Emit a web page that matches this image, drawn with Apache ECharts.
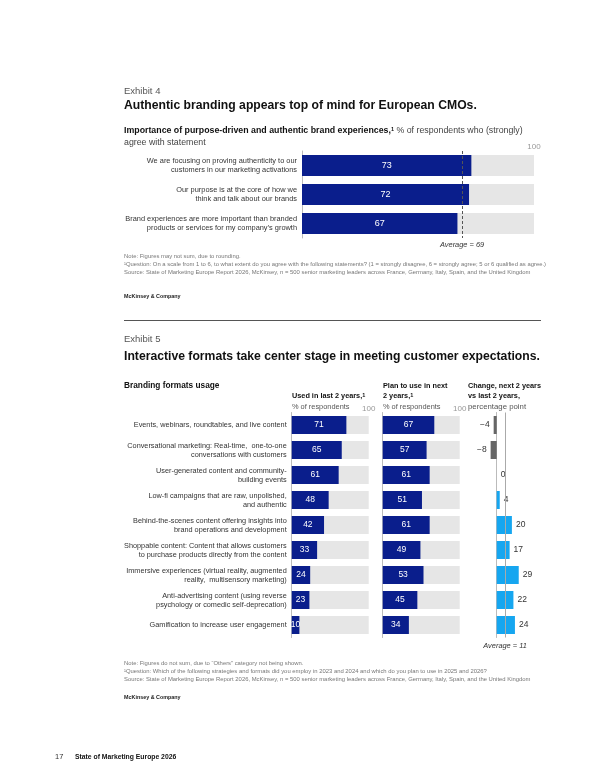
<!DOCTYPE html>
<html>
<head>
<meta charset="utf-8">
<script src="https://cdn.jsdelivr.net/npm/echarts@6/dist/echarts.min.js"></script>
<style>
html,body{margin:0;padding:0;background:#fff;}
#chart{width:600px;height:776px;}
</style>
</head>
<body>
<div id="chart"></div>
<script>
// Exhibit 4
var statements = [
  'We are focusing on proving authenticity to our\ncustomers in our marketing activations',
  'Our purpose is at the core of how we\nthink and talk about our brands',
  'Brand experiences are more important than branded\nproducts or services for my company\u2019s growth'
];
var agreeShare = [73, 72, 67];
var agreeAverage = 69;

// Exhibit 5
var formats = [
  'Events, webinars, roundtables, and live content',
  'Conversational marketing: Real-time,  one-to-one\nconversations with customers',
  'User-generated content and community-\nbuilding events',
  'Low-fi campaigns that are raw, unpolished,\nand authentic',
  'Behind-the-scenes content offering insights into\nbrand operations and development',
  'Shoppable content: Content that allows customers\nto purchase products directly from the content',
  'Immersive experiences (virtual reality, augmented\nreality,  multisensory marketing)',
  'Anti-advertising content (using reverse\npsychology or comedic self-deprecation)',
  'Gamification to increase user engagement'
];
var usedLast2 = [71, 65, 61, 48, 42, 33, 24, 23, 10];
var planNext2 = [67, 57, 61, 51, 61, 49, 53, 45, 34];
var changePts = [-4, -8, 0, 4, 20, 17, 29, 22, 24];
var changeAverage = 11;
var shareMax = 100;

var FONT = '"Liberation Sans", Arial, sans-serif';
var NAVY = '#0a1e8c';
var GREYBG = '#e6e6e6';
var CYAN = '#16a6f0';

var chart = echarts.init(document.getElementById('chart'));

function shareX(idx, show) {
  return {
    type: 'value', gridIndex: idx, min: 0, max: shareMax, interval: shareMax,
    position: 'top',
    axisLine: {show: false}, axisTick: {show: false}, splitLine: {show: false},
    axisLabel: {
      show: show, margin: 0, color: '#999', fontSize: 8, fontFamily: FONT,
      formatter: function (v) { return v === shareMax ? String(shareMax) : ''; }
    }
  };
}

function catY(idx, data, showLabel, size, lh) {
  return {
    type: 'category', gridIndex: idx, data: data, inverse: true,
    axisLine: {show: true, lineStyle: {color: '#bbb', width: 1}},
    axisTick: {show: false},
    axisLabel: {
      show: showLabel, color: '#333', fontSize: size, lineHeight: lh,
      fontFamily: FONT, margin: 5
    }
  };
}

function shareBar(idx, data, bw, fs) {
  return {
    type: 'bar', xAxisIndex: idx, yAxisIndex: idx, data: data,
    barWidth: bw, itemStyle: {color: NAVY},
    showBackground: true, backgroundStyle: {color: GREYBG},
    label: {show: true, position: 'inside', color: '#fff', fontSize: fs, fontFamily: FONT},
    silent: true
  };
}

var changeData = changePts.map(function (v) {
  return {
    value: v,
    itemStyle: {color: v < 0 ? '#666' : CYAN},
    label: {position: v < 0 ? 'left' : 'right'}
  };
});

chart.setOption({
  backgroundColor: '#fff',
  animation: false,
  grid: [
    {left: 302, width: 232, top: 151, height: 87},
    {left: 291.7, width: 77, top: 412.5, height: 225},
    {left: 382.7, width: 77, top: 412.5, height: 225},
    {left: 489.1, width: 30.4, top: 412.5, height: 225}
  ],
  xAxis: [
    shareX(0, true),
    shareX(1, true),
    shareX(2, true),
    {type: 'value', gridIndex: 3, min: -10, max: 30, show: false}
  ],
  yAxis: [
    catY(0, statements, true, 7.4, 9.5),
    catY(1, formats, true, 7.3, 9),
    catY(2, formats, false, 7.3, 9),
    catY(3, formats, false, 7.3, 9)
  ],
  series: [
    (function () {
      var s = shareBar(0, agreeShare, 21, 9);
      s.markLine = {
        silent: true, symbol: 'none', animation: false,
        label: {show: false},
        lineStyle: {type: [3, 2], color: '#555', width: 1},
        data: [{xAxis: agreeAverage}]
      };
      return s;
    })(),
    shareBar(1, usedLast2, 18, 8.5),
    shareBar(2, planNext2, 18, 8.5),
    {
      type: 'bar', xAxisIndex: 3, yAxisIndex: 3, data: changeData,
      barWidth: 18, silent: true,
      label: {
        show: true, distance: 4, color: '#333', fontSize: 8.5, fontFamily: FONT,
        formatter: function (p) { return p.value < 0 ? '\u2212' + Math.abs(p.value) : String(p.value); }
      },
      markLine: {
        silent: true, symbol: 'none', animation: false,
        label: {show: false},
        lineStyle: {type: 'solid', color: '#aaa', width: 1},
        data: [{xAxis: changeAverage}]
      }
    }
  ]
});

var avg4 = chart.convertToPixel({gridIndex: 0}, [agreeAverage, 0]);
var avg5 = chart.convertToPixel({gridIndex: 3}, [changeAverage, 0]);

function txt(x, y, text, opt) {
  opt = opt || {};
  return {
    type: 'text', x: x, y: y, silent: true,
    style: {
      text: text, fontFamily: FONT,
      fontSize: opt.size || 9, fontWeight: opt.bold ? 'bold' : 'normal',
      fontStyle: opt.italic ? 'italic' : 'normal',
      fill: opt.color || '#222', align: opt.align || 'left', verticalAlign: 'middle',
      lineHeight: opt.lh, rich: opt.rich
    }
  };
}

var supStyle = {fontWeight: 'bold', fontSize: 5.5, fill: '#111', fontFamily: FONT, verticalAlign: 'top'};
var subRich = {
  b: {fontWeight: 'bold', fontSize: 8.8, fill: '#111', fontFamily: FONT},
  s: supStyle,
  n: {fontSize: 8.8, fill: '#444', fontFamily: FONT}
};
var headRich = {
  b: {fontWeight: 'bold', fontSize: 7.3, fill: '#111', fontFamily: FONT},
  s: supStyle
};
var NOTE = {size: 5.9, color: '#777'};

chart.setOption({
  graphic: [
    // Exhibit 4
    txt(124, 91, 'Exhibit 4', {size: 9.5, color: '#555'}),
    txt(124, 106, 'Authentic branding appears top of mind for European CMOs.', {size: 12.2, bold: true, color: '#111'}),
    txt(124, 131, '{b|Importance of purpose-driven and authentic brand experiences,}{s|1} {n|% of respondents who (strongly)}', {rich: subRich}),
    txt(124, 142.5, 'agree with statement', {size: 8.8, color: '#444'}),
    txt(avg4[0], 245, 'Average = ' + agreeAverage, {size: 7.4, italic: true, color: '#333', align: 'center'}),
    txt(124, 256.5, 'Note: Figures may not sum, due to rounding.', NOTE),
    txt(124, 264.5, '\u00b9Question: On a scale from 1 to 6, to what extent do you agree with the following statements? (1 = strongly disagree, 6 = strongly agree; 5 or 6 qualified as agree.)', NOTE),
    txt(124, 272.5, 'Source: State of Marketing Europe Report 2026, McKinsey, n = 500 senior marketing leaders across France, Germany, Italy, Spain, and the United Kingdom', NOTE),
    txt(124, 297, 'McKinsey & Company', {size: 5.4, bold: true, color: '#222'}),
    {type: 'line', silent: true, shape: {x1: 124, y1: 320.5, x2: 541, y2: 320.5}, style: {stroke: '#555', lineWidth: 1.2}},

    // Exhibit 5
    txt(124, 339, 'Exhibit 5', {size: 9.5, color: '#555'}),
    txt(124, 357, 'Interactive formats take center stage in meeting customer expectations.', {size: 12.2, bold: true, color: '#111'}),
    txt(124, 386, 'Branding formats usage', {size: 8.3, bold: true, color: '#111'}),
    txt(292, 396, '{b|Used in last 2 years,}{s|1}', {rich: headRich}),
    txt(292, 407, '% of respondents', {size: 7.4, color: '#555'}),
    txt(383, 386, 'Plan to use in next', {size: 7.3, bold: true, color: '#111'}),
    txt(383, 396, '{b|2 years,}{s|1}', {rich: headRich}),
    txt(383, 407, '% of respondents', {size: 7.4, color: '#555'}),
    txt(468, 386, 'Change, next 2 years', {size: 7.3, bold: true, color: '#111'}),
    txt(468, 396, 'vs last 2 years,', {size: 7.3, bold: true, color: '#111'}),
    txt(468, 407, 'percentage point', {size: 7.8, color: '#555'}),
    txt(avg5[0], 646, 'Average = ' + changeAverage, {size: 7.4, italic: true, color: '#333', align: 'center'}),
    txt(124, 663, 'Note: Figures do not sum, due to \u201cOthers\u201d category not being shown.', NOTE),
    txt(124, 671, '\u00b9Question: Which of the following strategies and formats did you employ in 2023 and 2024 and which do you plan to use in 2025 and 2026?', NOTE),
    txt(124, 679, 'Source: State of Marketing Europe Report 2026, McKinsey, n = 500 senior marketing leaders across France, Germany, Italy, Spain, and the United Kingdom', NOTE),
    txt(124, 698, 'McKinsey & Company', {size: 5.4, bold: true, color: '#222'}),

    // page footer
    txt(55, 757, '17', {size: 7.5, color: '#333'}),
    txt(75, 757, 'State of Marketing Europe 2026', {size: 6.8, bold: true, color: '#111'})
  ]
});
</script>
</body>
</html>
